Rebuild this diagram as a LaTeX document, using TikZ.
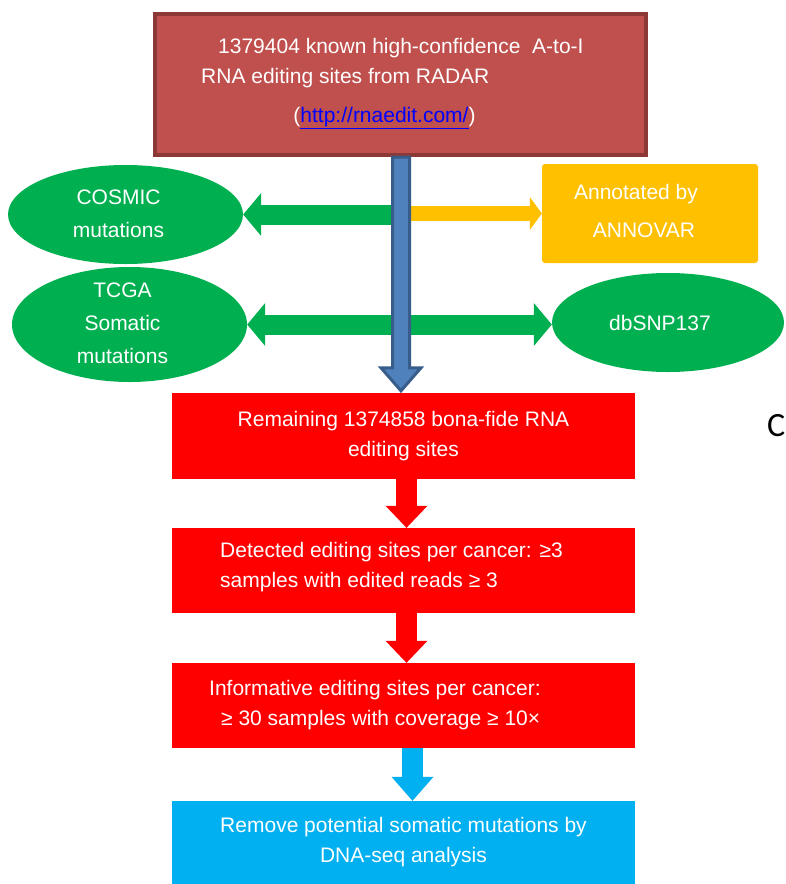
\documentclass[tikz,border=0pt]{standalone}
\usepackage{fontspec}
\setmainfont{Liberation Sans}
\newfontfamily\cfont{Carlito}
\usetikzlibrary{arrows.meta,shapes.geometric,calc}
\definecolor{topfill}{HTML}{C0504D}
\definecolor{topdraw}{HTML}{8C3836}
\definecolor{bfill}{HTML}{4F81BD}
\definecolor{bdraw}{HTML}{385D8A}
\definecolor{gfill}{HTML}{00B050}
\definecolor{yfill}{HTML}{FFC000}
\definecolor{cfill}{HTML}{00B0F0}
\definecolor{linkblue}{HTML}{0000FF}
\begin{document}
\begin{tikzpicture}[x=1pt,y=-1pt,
  wtext/.style={text=white,font=\fontsize{21}{30}\selectfont,inner sep=0pt},
  ell/.style={ellipse,fill=gfill,inner sep=0pt,wtext,align=center},
  flowbox/.style={rectangle,minimum width=463pt,inner sep=0pt,wtext,align=center},
  garrow/.style={draw=gfill,line width=20pt,-{Triangle[width=43pt,length=18pt,line width=0pt]}},
  yarrow/.style={draw=yfill,line width=15pt,-{Triangle[width=33pt,length=12pt,line width=0pt]}},
  rarrow/.style={draw=red,line width=21pt,-{Triangle[width=42pt,length=22pt,line width=0pt]}},
  carrow/.style={draw=cfill,line width=21pt,-{Triangle[width=42pt,length=24pt,line width=0pt]}},
  bluearrow/.style={fill=bfill,draw=bdraw,line width=3pt,line join=miter}
]
\useasboundingbox (0,0) rectangle (786,884);
\fill[white] (0,0) rectangle (786,884);

% top box
\node[rectangle,fill=topfill,draw=topdraw,line width=4pt,minimum width=491pt,minimum height=141pt,inner sep=0pt] (top) at (400.5,84.5) {};
\node[wtext,align=left,anchor=west] (toptxt) at (201,63) {\hspace*{17pt}1379404 known high-confidence\ \ A-to-I\\RNA editing sites from RADAR};
\node[wtext] (url) at (384.5,118) {(\textcolor{linkblue}{\underline{http://rnaedit.com/}})};

% side nodes
\node[ell,minimum width=235pt,minimum height=99pt] (cosmic) at (125.5,214.5) {};
\node[wtext,align=center,font=\fontsize{21}{33}\selectfont] (cosmictxt) at ($(cosmic.center)+(-7,-1)$) {COSMIC\\mutations};
\node[ell,minimum width=235pt,minimum height=115pt] (tcga) at (129.5,324.5) {};
\node[wtext,align=center,font=\fontsize{21}{33}\selectfont] (tcgatxt) at ($(tcga.center)+(-7,-1)$) {TCGA\\Somatic\\mutations};
\node[ell,minimum width=232pt,minimum height=99pt] (dbsnp) at (668,322.5) {\hspace*{-16pt}dbSNP137};
\node[rectangle,fill=yfill,rounded corners=3pt,minimum width=216pt,minimum height=99pt,inner sep=0pt] (annot) at (650,213.5) {};
\node[wtext,align=center,font=\fontsize{21}{38}\selectfont] (annottxt) at (636,211) {Annotated by\\\hspace*{16pt}ANNOVAR};

% flow boxes
\node[flowbox,fill=red,minimum height=86pt] (box1) at (403.5,436) {Remaining 1374858 bona-fide RNA\\editing sites};
\node[flowbox,fill=red,minimum height=85pt] (box2) at (403.5,570.5) {};
\node[wtext,align=left,anchor=west] (box2txt) at (220,567.5) {Detected editing sites per cancer: ≥3\\samples with edited reads ≥ 3};
\node[flowbox,fill=red,minimum height=85pt] (box3) at (403.5,705.5) {};
\node[wtext,align=left,anchor=west] (box3txt) at (209,705) {Informative editing sites per cancer:\\\hspace*{12pt}≥ 30 samples with coverage ≥ 10×};
\node[flowbox,fill=cfill,minimum height=83pt] (box4) at (403.5,842.5) {Remove potential somatic mutations by\\DNA-seq analysis};

% horizontal arrows (behind the blue one)
\draw[garrow] (top.south |- cosmic.east) -- (cosmic.east);
\draw[yarrow] (top.south |- annot.west) -- (annot.west);
\draw[garrow] (top.south |- tcga.east) -- (tcga.east);
\draw[garrow] (top.south |- tcga.east) -- (tcga.east -| dbsnp.west);

% main blue arrow
\coordinate (ba) at ($(top.south)+(0.5,0)$);
\coordinate (bb) at ($(box1.north -| ba)+(0,-2)$);
\draw[bluearrow] ($(ba)+(-8.5,0)$) -- ($(bb)+(-8.5,-23)$) -- ($(bb)+(-20,-23)$) -- (bb)
  -- ($(bb)+(20,-23)$) -- ($(bb)+(8.5,-23)$) -- ($(ba)+(8.5,0)$) -- cycle;

% vertical arrows
\draw[rarrow] ($(box1.south)+(3,0)$) -- ($(box2.north)+(3,0)$);
\draw[rarrow] ($(box2.south)+(3,0)$) -- ($(box3.north)+(3,0)$);
\draw[carrow] ($(box3.south)+(9,0)$) -- ($(box4.north)+(9,0)$);

% cut-off letter at right edge
\node[font=\cfont\fontsize{34}{34}\selectfont,anchor=base west,inner sep=0pt] (cut) at (767,436) {C};
\end{tikzpicture}
\end{document}
